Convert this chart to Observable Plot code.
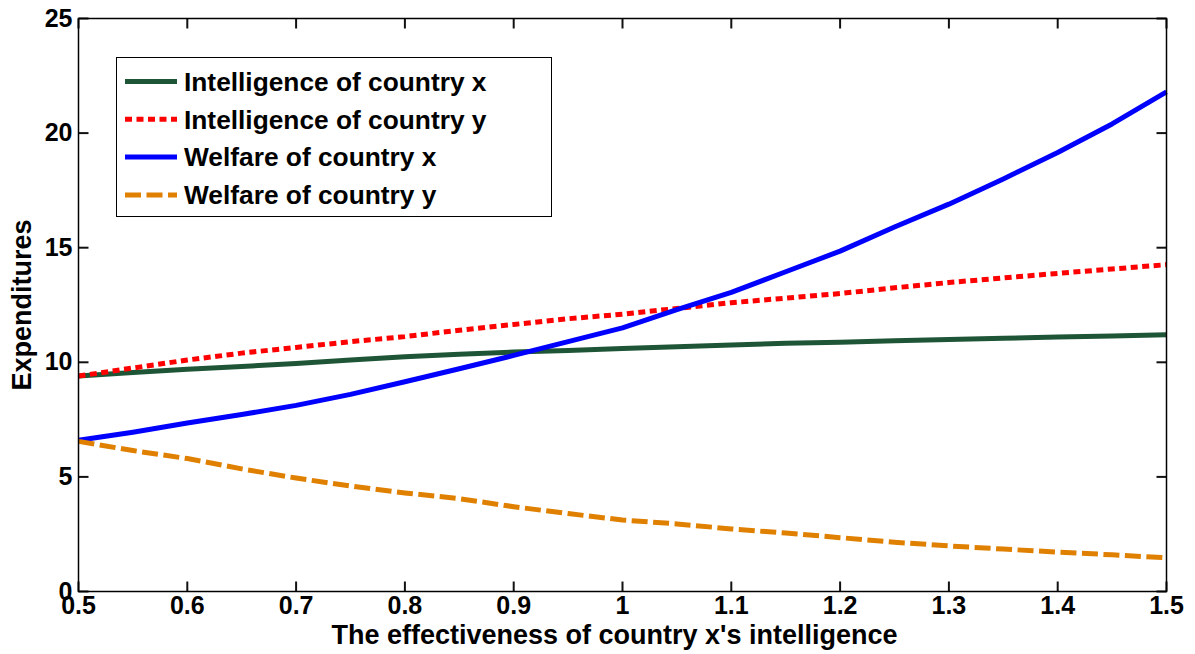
<!DOCTYPE html>
<html><head><meta charset="utf-8">
<script src="https://cdn.jsdelivr.net/npm/d3@7"></script>
<script src="https://cdn.jsdelivr.net/npm/@observablehq/plot@0.6"></script>
<style>
html,body{margin:0;padding:0;background:#fff;}
#wrap{position:relative;width:1195px;height:654px;font-family:"Liberation Sans",Arial,sans-serif;font-weight:bold;}
#legend{position:absolute;left:116px;top:57px;width:434px;height:158px;border:1.5px solid #000;background:#fff;}
#legend svg{position:absolute;left:0;top:0;}
</style></head><body><div id="wrap"></div>
<script>
// ---- data ----
const xValues = [0.5,0.55,0.6,0.65,0.7,0.75,0.8,0.85,0.9,0.95,1.0,1.05,1.1,1.15,1.2,1.25,1.3,1.35,1.4,1.45,1.5];
const intelX = [9.4,9.55,9.7,9.82,9.95,10.1,10.24,10.35,10.45,10.52,10.6,10.68,10.76,10.83,10.88,10.94,11.0,11.05,11.1,11.15,11.2];
const intelY = [9.4,9.75,10.1,10.4,10.65,10.9,11.12,11.4,11.65,11.9,12.1,12.35,12.6,12.8,13.0,13.25,13.48,13.68,13.88,14.07,14.26];
const welfX = [6.6,6.95,7.35,7.72,8.12,8.6,9.15,9.72,10.3,10.9,11.5,12.3,13.05,13.95,14.85,15.9,16.9,18.0,19.15,20.4,21.8];
const welfY = [6.55,6.15,5.8,5.35,4.95,4.6,4.3,4.05,3.7,3.4,3.12,2.95,2.73,2.55,2.35,2.15,1.99,1.85,1.72,1.6,1.47];
const seriesNames = ["Intelligence of country x","Intelligence of country y","Welfare of country x","Welfare of country y"];
const seriesValues = [intelX, intelY, welfX, welfY];
const seriesColors = ["#1f5537","#ff0000","#0000ff","#e08000"];
const seriesDash = [null,"7,4.5",null,"16,5.5"];
const xTicks = [0.5,0.6,0.7,0.8,0.9,1,1.1,1.2,1.3,1.4,1.5];
const yTicks = [0,5,10,15,20,25];
const xDomain = [0.5, 1.5];
const yDomain = [0, 25];
const xLabel = "The effectiveness of country x's intelligence";
const yLabel = "Expenditures";

// ---- table ----
const rows = [];
seriesNames.forEach((name, s) => xValues.forEach((x, i) => rows.push({series: name, x, v: seriesValues[s][i]})));

const lineMarks = seriesNames.map((name, s) => Plot.line(rows.filter(r => r.series === name), {
  x: "x", y: "v", stroke: seriesColors[s], strokeWidth: 5,
  strokeDasharray: seriesDash[s] || undefined, strokeLinecap: "butt", strokeLinejoin: "round"
}));

// layout
const W = 1195, H = 654, mL = 78, mR = 29, mT = 18, mB = 63;
const frameW = W - mL - mR, frameH = H - mT - mB, tickLen = 10;
// tick length expressed in data units of each scale
const tyLen = (yDomain[1] - yDomain[0]) * tickLen / frameH;
const txLen = (xDomain[1] - xDomain[0]) * tickLen / frameW;
const tickStyle = {stroke: "#111", strokeWidth: 2};

const chart = Plot.plot({
  width: W, height: H,
  marginLeft: mL, marginRight: mR, marginTop: mT, marginBottom: mB,
  style: {fontFamily: "'Liberation Sans', Arial, sans-serif", fontWeight: "bold", fontSize: "25px", color: "black", background: "white"},
  x: {domain: xDomain},
  y: {domain: yDomain},
  marks: [
    ...lineMarks,
    // inward tick marks on all four sides (MATLAB style)
    Plot.link(xTicks, {x1: d => d, x2: d => d, y1: () => yDomain[0], y2: () => yDomain[0] + tyLen, ...tickStyle}),
    Plot.link(xTicks, {x1: d => d, x2: d => d, y1: () => yDomain[1], y2: () => yDomain[1] - tyLen, ...tickStyle}),
    Plot.link(yTicks, {y1: d => d, y2: d => d, x1: () => xDomain[0], x2: () => xDomain[0] + txLen, ...tickStyle}),
    Plot.link(yTicks, {y1: d => d, y2: d => d, x1: () => xDomain[1], x2: () => xDomain[1] - txLen, ...tickStyle}),
    Plot.frame({stroke: "black", strokeWidth: 1.5}),
    Plot.axisX(xTicks, {anchor: "bottom", tickSize: 0, tickPadding: 5, tickFormat: d => String(d), fontSize: 25, label: null}),
    Plot.axisY(yTicks, {anchor: "left", tickSize: 0, tickPadding: 6, tickFormat: d => String(d), fontSize: 25, label: null}),
    Plot.text([xLabel], {frameAnchor: "bottom", text: d => d, dy: 44, dx: -8, lineAnchor: "middle", textAnchor: "middle", fontSize: 27, fontWeight: "bold"}),
    Plot.text([yLabel], {frameAnchor: "left", text: d => d, rotate: -90, dx: -56, lineAnchor: "middle", textAnchor: "middle", fontSize: 27, fontWeight: "bold"})
  ]
});
const wrap = document.getElementById("wrap");
wrap.appendChild(chart);

// ---- legend (inside plot area, overlay) ----
const legend = document.createElement("div");
legend.id = "legend";
const ns = "http://www.w3.org/2000/svg";
const lsvg = document.createElementNS(ns, "svg");
lsvg.setAttribute("width", 434); lsvg.setAttribute("height", 158);
seriesNames.forEach((name, s) => {
  const cy = 23.5 + s * 37.8;
  const ln = document.createElementNS(ns, "line");
  ln.setAttribute("x1", 8); ln.setAttribute("x2", 60);
  ln.setAttribute("y1", cy); ln.setAttribute("y2", cy);
  ln.setAttribute("stroke", seriesColors[s]); ln.setAttribute("stroke-width", 5);
  if (seriesDash[s]) ln.setAttribute("stroke-dasharray", seriesDash[s]);
  lsvg.appendChild(ln);
  const t = document.createElementNS(ns, "text");
  t.setAttribute("x", 67); t.setAttribute("y", cy);
  t.setAttribute("dy", "0.35em");
  t.setAttribute("font-size", 26.3); t.setAttribute("font-weight", "bold");
  t.setAttribute("font-family", "'Liberation Sans', Arial, sans-serif");
  t.textContent = name;
  lsvg.appendChild(t);
});
legend.appendChild(lsvg);
wrap.appendChild(legend);
</script>
</body></html>
